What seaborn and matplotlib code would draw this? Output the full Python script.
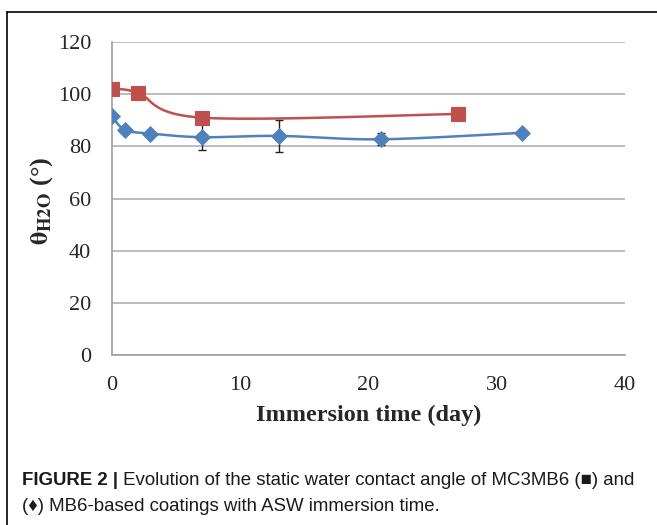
import numpy as np
import pandas as pd
import matplotlib
matplotlib.use("Agg")
import matplotlib.pyplot as plt
import seaborn as sns
from matplotlib.lines import Line2D

# ---- data ----
mc3_days = [0, 2, 7, 27]
mc3_angle = [102.0, 100.6, 91.0, 92.4]

mb6_days = [0, 1, 3, 7, 13, 21, 32]
mb6_angle = [91.6, 86.3, 84.9, 83.5, 84.0, 82.7, 85.2]
mb6_err = [0, 0, 0, 5.0, 6.0, 2.3, 0]

x_ticks = [0, 10, 20, 30, 40]
y_ticks = [0, 20, 40, 60, 80, 100, 120]

RED = "#C0504D"
BLUE = "#4F81BD"

sns.set_theme(style="white")
plt.rcParams["mathtext.fontset"] = "stix"

fig = plt.figure(figsize=(6.57, 5.25), dpi=100)
ax = fig.add_axes([112/657, 1 - 355/525, (625-112)/657, (355-42)/525])


def smooth(xs, ys, sx=12.8, sy=2.61, n=30):
    # Excel-like Bezier smoothing in screen proportions
    P = np.column_stack([np.asarray(xs, float) * sx, np.asarray(ys, float) * sy])
    out = [P[0]]
    for i in range(len(P) - 1):
        p0 = P[i - 1] if i > 0 else P[i]
        p1, p2 = P[i], P[i + 1]
        p3 = P[i + 2] if i + 2 < len(P) else P[i + 1]
        c1 = p1 + (p2 - p0) / 6
        c2 = p2 - (p3 - p1) / 6
        t = np.linspace(0, 1, n)[1:, None]
        seg = ((1-t)**3)*p1 + 3*((1-t)**2)*t*c1 + 3*(1-t)*t**2*c2 + t**3*p2
        out.extend(seg)
    out = np.array(out)
    return out[:, 0] / sx, out[:, 1] / sy


for d, a, c in [(mc3_days, mc3_angle, RED), (mb6_days, mb6_angle, BLUE)]:
    sx, sy = smooth(d, a)
    ax.plot(sx, sy, color=c, lw=1.8, zorder=3)

ax.errorbar(mb6_days, mb6_angle, yerr=mb6_err, fmt="none", ecolor="#222222",
            elinewidth=1.0, capsize=3, capthick=1.0, zorder=2)

df_mb6 = pd.DataFrame({"day": mb6_days, "angle": mb6_angle})
df_mc3 = pd.DataFrame({"day": mc3_days, "angle": mc3_angle})
sns.scatterplot(data=df_mb6, x="day", y="angle", marker="D", s=65, color=BLUE,
                edgecolor=BLUE, ax=ax, zorder=4)
sns.scatterplot(data=df_mc3, x="day", y="angle", marker="s", s=95, color=RED,
                edgecolor=RED, ax=ax, zorder=5)

ax.set_xlim(0, 40)
ax.set_ylim(0, 120)
ax.set_xticks(x_ticks)
ax.set_yticks(y_ticks)
ax.set_xticklabels([str(v) for v in x_ticks], fontsize=16, family="Liberation Serif")
ax.set_yticklabels([str(v) for v in y_ticks], fontsize=16, family="Liberation Serif")
ax.yaxis.grid(True, color="#B0B0B0", lw=1.2)
ax.xaxis.grid(False)
for s in ["top", "right"]:
    ax.spines[s].set_visible(False)
for s in ["left", "bottom"]:
    ax.spines[s].set_color("#A0A0A0")
    ax.spines[s].set_linewidth(1.2)
ax.tick_params(axis="y", direction="out", length=6, color="#A0A0A0", width=1.2, pad=9)
ax.tick_params(axis="x", direction="in", length=6, color="#A0A0A0", width=1.2, pad=15)
ax.set_xlabel("Immersion time (day)", fontsize=17.5, fontweight="bold",
              family="Liberation Serif", labelpad=7)
ax.set_ylabel(r"$\mathbf{\theta}_{\mathbf{H2O}}$ (°)", fontsize=19, fontweight="bold",
              family="Liberation Serif")
ax.yaxis.set_label_coords((55 - 112) / 513, (355 - 201) / 313)

# outer frame
fig.add_artist(Line2D([7/657, 1.0], [1 - 12/525, 1 - 12/525], color="black", lw=1.2))
fig.add_artist(Line2D([7/657, 7/657], [0, 1 - 12/525], color="black", lw=1.2))

# caption
fam = ["Liberation Sans", "DejaVu Sans"]
fs = 13.4
t1 = fig.text(22/657, 1 - 485/525, "FIGURE 2 |", fontsize=fs, fontweight="bold",
              family=fam, color="#1a1a1a")
ax.annotate(" Evolution of the static water contact angle of MC3MB6 (■) and",
            xy=(1, 0), xycoords=t1, va="bottom", ha="left", fontsize=fs,
            family=fam, color="#1a1a1a", annotation_clip=False)
fig.text(22/657, 1 - 511/525, "(♦) MB6-based coatings with ASW immersion time.",
         fontsize=fs, family=fam, color="#1a1a1a")

fig.savefig("out.png", dpi=100)
